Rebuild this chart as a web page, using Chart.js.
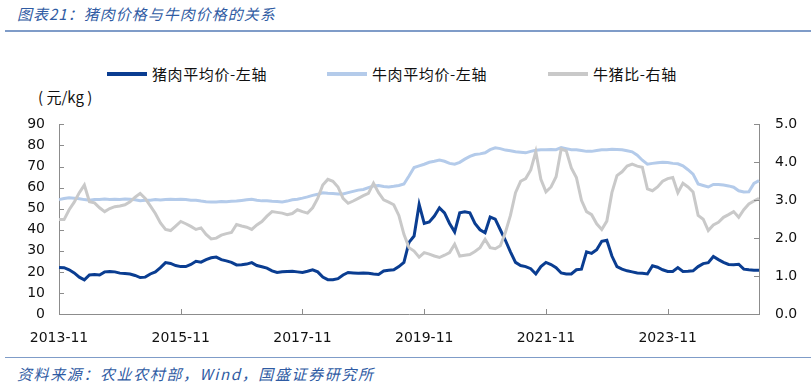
<!DOCTYPE html>
<html>
<head>
<meta charset="utf-8">
<script src="https://cdn.jsdelivr.net/npm/chart.js@4.4.1/dist/chart.umd.min.js"></script>
<style>
  body { margin: 0; background: #fff; width: 811px; height: 388px; overflow: hidden; position: relative; font-family: "Noto Sans CJK SC", "DejaVu Sans", sans-serif; }
  .title { position: absolute; left: 17px; top: 3px; font-size: 15px; font-style: italic; color: #2f5ba3; letter-spacing: 1px; }
  .rule { position: absolute; left: 5px; right: 0; height: 2px; background: #7f9cc8; }
  .legend { position: absolute; top: 63px; font-size: 15px; color: #111; letter-spacing: 0.6px; white-space: nowrap; }
  .legend span.mark { position: absolute; top: 9px; width: 40px; height: 4px; }
  .legend span.txt { position: absolute; top: 0; }
  .unit { position: absolute; left: 38px; top: 86px; font-size: 15px; color: #111; white-space: pre; }
  .source { position: absolute; left: 17px; top: 363px; font-size: 15px; font-style: italic; color: #2f5ba3; letter-spacing: 1.6px; white-space: nowrap; }
  #wrap { position: absolute; left: 0; top: 100px; }
</style>
</head>
<body>
<div class="title">图表21：猪肉价格与牛肉价格的关系</div>
<div class="rule" style="top:30px"></div>

<div class="legend" style="left:107px">
  <span class="mark" style="left:0; background:#0a3d91"></span>
  <span class="txt" style="left:45px">猪肉平均价-左轴</span>
</div>
<div class="legend" style="left:327px">
  <span class="mark" style="left:0; background:#b4cbea"></span>
  <span class="txt" style="left:45px">牛肉平均价-左轴</span>
</div>
<div class="legend" style="left:548px">
  <span class="mark" style="left:0; background:#c9c9c9"></span>
  <span class="txt" style="left:45px">牛猪比-右轴</span>
</div>

<div class="unit">( 元/kg )</div>

<div id="wrap"><canvas id="priceChart" width="811" height="250"></canvas></div>

<div class="rule" style="top:357px; height:1px"></div>
<div class="source">资料来源：农业农村部，Wind，国盛证券研究所</div>

<script>
// monthly points, 2013-11 .. 2025-05
const startYear = 2013, startMonth = 11, monthCount = 139;
const months = [];
for (let k = 0; k < monthCount; k++) {
    const m = startMonth - 1 + k;
    const y = startYear + Math.floor(m / 12);
    months.push(y + '-' + String(m % 12 + 1).padStart(2, '0'));
}

const xTickLabels = ['2013-11', '2015-11', '2017-11', '2019-11', '2021-11', '2023-11'];

// 猪肉平均价 (元/kg)
const porkPrice = [
    22.1, 22.0, 21.0, 19.5, 17.5, 16.2, 18.5, 18.7, 18.5, 20.0,
    20.2, 20.0, 19.4, 19.2, 19.0, 18.3, 17.3, 17.5, 19.0, 20.0,
    22.0, 24.4, 24.0, 23.0, 22.5, 22.5, 23.5, 25.0, 24.6, 25.8,
    26.7, 27.0, 25.8, 25.2, 24.5, 23.3, 23.4, 23.7, 24.4, 23.0,
    22.4, 21.8, 20.5, 19.7, 20.0, 20.2, 20.3, 20.0, 19.7, 20.3,
    21.0, 20.0, 17.5, 16.3, 16.3, 16.8, 18.5, 19.7, 19.5, 19.3,
    19.5, 19.3, 19.0, 18.8, 20.4, 20.8, 21.0, 22.5, 24.5, 34.0,
    37.0, 52.0, 43.0, 43.7, 46.5, 50.4, 48.0, 43.0, 39.0, 48.0,
    48.5, 48.0, 43.0, 40.0, 38.6, 46.0, 45.0, 40.0, 35.0, 29.5,
    24.5, 23.0, 22.5, 21.5, 19.0, 22.5, 24.5, 23.5, 22.0, 19.5,
    19.0, 19.0, 21.0, 21.3, 29.5, 28.8, 30.5, 34.5, 35.0, 27.5,
    22.5, 21.3, 20.5, 20.0, 19.5, 19.3, 19.0, 22.9, 22.2, 21.0,
    20.2, 20.2, 22.0, 20.2, 20.3, 20.5, 22.5, 23.9, 24.4, 27.3,
    25.8, 24.5, 23.5, 23.4, 23.6, 21.3, 21.0, 20.8, 20.8
];

// 牛肉平均价 (元/kg)
const beefPrice = [
    54.3, 54.8, 55.2, 55.0, 54.7, 54.3, 54.0, 54.4, 54.3, 54.6,
    54.4, 54.5, 54.3, 54.6, 54.5, 54.2, 53.8, 54.0, 54.0, 54.3,
    54.1, 54.3, 54.5, 54.4, 54.5, 54.3, 54.0, 54.0, 53.6, 53.3,
    53.2, 53.2, 53.4, 53.3, 53.5, 53.6, 53.9, 54.2, 54.5, 54.0,
    53.7, 53.7, 53.5, 53.4, 53.2, 53.6, 54.2, 54.5, 55.0, 55.6,
    56.3, 56.8, 57.5, 57.3, 57.2, 57.0, 57.0, 57.6, 58.2, 58.8,
    59.1, 60.0, 60.8, 61.0, 60.5, 60.3, 60.6, 61.0, 61.7, 65.5,
    69.5, 70.3, 71.1, 72.0, 72.5, 73.1, 72.5, 71.5, 71.1, 72.0,
    73.5, 74.8, 75.7, 76.0, 76.5, 78.0, 78.9, 78.5, 77.8, 77.5,
    77.0, 76.8, 76.5, 77.2, 77.7, 78.0, 78.0, 78.1, 78.0, 79.0,
    78.5, 78.0, 78.0, 77.6, 77.2, 77.2, 77.6, 78.0, 78.0, 78.2,
    78.1, 78.0, 77.5, 77.0, 75.4, 73.0, 71.1, 71.5, 71.8, 72.0,
    71.9, 71.5, 71.3, 70.3, 68.5, 66.4, 61.7, 61.0, 60.3, 61.5,
    61.5, 61.2, 60.8, 60.2, 58.5, 57.9, 58.0, 62.0, 63.3
];

// 牛猪比
const beefPorkRatio = [
    2.49, 2.49, 2.75, 2.95, 3.20, 3.40, 2.96, 2.93, 2.80, 2.70,
    2.78, 2.83, 2.85, 2.88, 2.96, 3.08, 3.18, 3.05, 2.85, 2.65,
    2.40, 2.23, 2.20, 2.32, 2.44, 2.38, 2.31, 2.23, 2.27, 2.10,
    1.98, 2.00, 2.08, 2.12, 2.15, 2.36, 2.32, 2.29, 2.23, 2.35,
    2.44, 2.58, 2.70, 2.68, 2.66, 2.62, 2.65, 2.75, 2.70, 2.66,
    2.80, 3.05, 3.40, 3.55, 3.50, 3.35, 3.05, 2.92, 2.98, 3.05,
    3.12, 3.18, 3.45, 3.20, 3.01, 2.95, 2.88, 2.60, 2.10, 1.75,
    1.66, 1.50, 1.62, 1.58, 1.53, 1.49, 1.55, 1.62, 1.84, 1.53,
    1.55, 1.57, 1.65, 1.75, 1.97, 1.75, 1.72, 1.80, 2.15, 2.60,
    3.20, 3.50, 3.57, 3.80, 4.28, 3.55, 3.22, 3.35, 3.62, 4.35,
    4.30, 3.85, 3.60, 3.00, 2.70, 2.62, 2.38, 2.23, 2.45, 3.20,
    3.65, 3.75, 3.90, 3.95, 3.90, 3.87, 3.30, 3.25, 3.35, 3.50,
    3.57, 3.60, 3.20, 3.45, 3.35, 3.22, 2.60, 2.50, 2.20, 2.35,
    2.42, 2.55, 2.62, 2.70, 2.55, 2.75, 2.90, 2.98, 3.05
];

const axisColor = '#8c8c8c';
const tickFont = { family: 'DejaVu Sans', size: 14 };

// short tick marks pointing into the plot, like the original
const innerTicks = {
    id: 'innerTicks',
    afterDatasetsDraw(chart) {
        const ctx = chart.ctx;
        const area = chart.chartArea;
        const x = chart.scales.x, yL = chart.scales.yLeft, yR = chart.scales.yRight;
        ctx.save();
        ctx.strokeStyle = axisColor;
        ctx.lineWidth = 1;
        ctx.beginPath();
        xTickLabels.forEach(lbl => {
            const px = Math.round(x.getPixelForValue(months.indexOf(lbl))) + 0.5;
            ctx.moveTo(px, area.bottom);
            ctx.lineTo(px, area.bottom - 5);
        });
        yL.ticks.forEach(t => {
            const py = Math.round(yL.getPixelForValue(t.value)) + 0.5;
            ctx.moveTo(area.left, py);
            ctx.lineTo(area.left + 5, py);
        });
        yR.ticks.forEach(t => {
            const py = Math.round(yR.getPixelForValue(t.value)) + 0.5;
            ctx.moveTo(area.right, py);
            ctx.lineTo(area.right - 5, py);
        });
        ctx.stroke();
        ctx.restore();
    }
};

const ctx = document.getElementById('priceChart').getContext('2d');
new Chart(ctx, {
    type: 'line',
    data: {
        labels: months,
        datasets: [{
            label: '猪肉平均价-左轴',
            data: porkPrice,
            borderColor: '#0a3d91',
            borderWidth: 3,
            yAxisID: 'yLeft',
            order: 1
        }, {
            label: '牛肉平均价-左轴',
            data: beefPrice,
            borderColor: '#b4cbea',
            borderWidth: 3,
            yAxisID: 'yLeft',
            order: 2
        }, {
            label: '牛猪比-右轴',
            data: beefPorkRatio,
            borderColor: '#c9c9c9',
            borderWidth: 3,
            yAxisID: 'yRight',
            order: 0
        }]
    },
    options: {
        responsive: false,
        animation: false,
        devicePixelRatio: 1,
        layout: { padding: { top: 22, left: 0, right: 0, bottom: 0 } },
        elements: { point: { radius: 0 }, line: { tension: 0 } },
        plugins: {
            legend: { display: false },
            tooltip: { enabled: false }
        },
        scales: {
            x: {
                type: 'category',
                offset: false,
                grid: { display: false, drawTicks: false },
                border: { display: true, color: axisColor, width: 1 },
                ticks: {
                    autoSkip: false,
                    maxRotation: 0,
                    padding: 16,
                    color: '#111',
                    font: tickFont,
                    callback: function(val) {
                        const lbl = this.getLabelForValue(val);
                        return xTickLabels.includes(lbl) ? lbl : '';
                    }
                },
                afterFit: scale => { scale.height = 36; }
            },
            yLeft: {
                position: 'left',
                min: 0,
                max: 90,
                grid: { display: false, drawTicks: false },
                border: { display: true, color: axisColor, width: 1 },
                ticks: { stepSize: 10, padding: 14, color: '#111', font: tickFont },
                afterFit: scale => { scale.width = 59; }
            },
            yRight: {
                position: 'right',
                min: 0,
                max: 5,
                grid: { display: false, drawTicks: false },
                border: { display: true, color: axisColor, width: 1 },
                ticks: {
                    stepSize: 0.5,
                    padding: 16,
                    color: '#111',
                    font: tickFont,
                    callback: v => v.toFixed(1)
                },
                afterFit: scale => { scale.width = 52; }
            }
        }
    },
    plugins: [innerTicks]
});
</script>
</body>
</html>
